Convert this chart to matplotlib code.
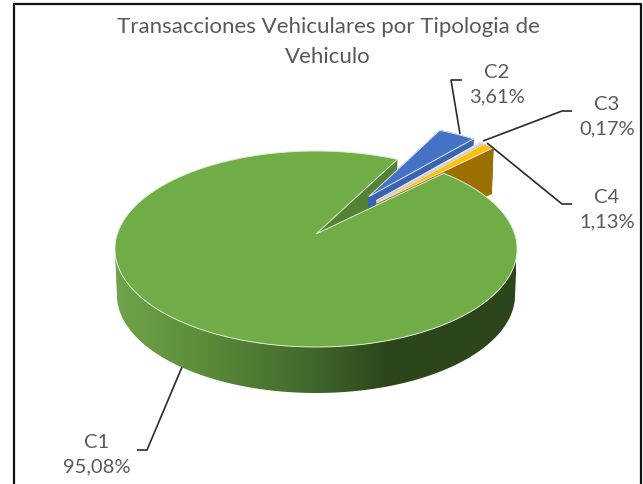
import numpy as np
import matplotlib
matplotlib.use("Agg")
import matplotlib.pyplot as plt
from matplotlib.colors import LinearSegmentedColormap
from matplotlib.patches import Polygon

plt.rcParams['font.family'] = ['Lato', 'DejaVu Sans']

title = "Transacciones Vehiculares por Tipologia de\nVehiculo"
categories = ["C1", "C2", "C3", "C4"]
values = [95.08, 3.61, 0.17, 1.13]
value_labels = ["95,08%", "3,61%", "0,17%", "1,13%"]
top_colors = ["#70ad47", "#4472c4", "#a5a5a5", "#ffc000"]
side_colors = ["#548235", "#3a64b0", "#c9c9c9", "#9c7000"]

# projection of the pie disc, in picture pixels
cx, cy = 316, 235
a, b, k = 95.7, 198.7, 0.153
depth = 46
start_angle = 44.6
explode = [0, 0.5, 0.49, 0.47]


def project(x, y):
    den = 1 + k * y
    return cx + b * x / den, cy - a * y / den


def lower(px, py):
    return cx + (px - cx) * 0.99, py + depth


def slice_outline(t0, t1, off):
    # t0 > t1, clockwise, degrees
    mid = np.radians((t0 + t1) / 2)
    ox, oy = off * np.cos(mid), off * np.sin(mid)
    t = np.radians(np.linspace(t0, t1, max(int(abs(t0 - t1)) * 2, 8)))
    xs = np.r_[ox, ox + np.cos(t)]
    ys = np.r_[oy, oy + np.sin(t)]
    return project(xs, ys)


def draw_walls(px, py, color, z):
    lx, ly = lower(px, py)
    n = len(px)
    for i in range(n):
        j = (i + 1) % n
        ax.fill([px[i], px[j], lx[j], lx[i]], [py[i], py[j], ly[j], ly[i]],
                color=color, lw=0.4, zorder=z)


fig = plt.figure(figsize=(6.43, 4.85), dpi=100)
ax = fig.add_axes([0, 0, 1, 1])
ax.set_xlim(0, 643)
ax.set_ylim(485, 0)
ax.axis('off')

# slice angles from the values
ends = start_angle - np.cumsum(values) / sum(values) * 360
starts = np.r_[start_angle, ends[:-1]]

# C1 cut face behind the small slices
gx, gy = slice_outline(starts[0], ends[0], 0)
lx, ly = lower(gx, gy)
ax.fill([gx[0], gx[-1], lx[-1], lx[0]], [gy[0], gy[-1], ly[-1], ly[0]],
        color=side_colors[0], lw=0, zorder=1)

# C1 front wall with its gradient
t = np.radians(np.linspace(-9, -171, 200))
wx, wy = project(np.cos(t), np.sin(t))
bx, by = lower(wx, wy)
wall = Polygon(np.c_[np.r_[wx, bx[::-1]], np.r_[wy, by[::-1]]], closed=True,
               transform=ax.transData, fc='none', ec='none')
ax.add_patch(wall)
cmap = LinearSegmentedColormap.from_list(
    "wall", [(0, "#6fa449"), (0.2, "#5e8f3c"), (0.5, "#40662a"),
             (0.68, "#2c451a"), (1, "#2c451a")])
im = ax.imshow(np.linspace(0, 1, 256)[None, :], cmap=cmap, aspect='auto',
               extent=(115, 516, 400, 240), zorder=2)
im.set_clip_path(wall)
ax.set_xlim(0, 643)
ax.set_ylim(485, 0)

# small slices, far one first
for i in [1, 2, 3]:
    px, py = slice_outline(starts[i], ends[i], explode[i])
    draw_walls(px, py, side_colors[i], 3 + i)
    ax.fill(px, py, fc=top_colors[i], ec="#e8e8e8", lw=0.7, zorder=3.5 + i)

# C1 top goes over the C4 wall
ax.fill(gx, gy, fc=top_colors[0], ec="#dfe9d6", lw=0.7, zorder=8)

# leader lines
leaders = [
    ([182, 147, 137], [368, 451, 451]),
    ([460, 451, 462], [135, 81, 81]),
    ([483, 562, 572], [142, 112, 112]),
    ([487, 562, 572], [144, 205, 205]),
]
label_pos = [(97, 455), (497, 85), (607, 117), (607, 210)]
for (lxs, lys), (tx, ty), cat, lab in zip(leaders, label_pos, categories, value_labels):
    ax.plot(lxs, lys, color="#2b2b2b", lw=1.2, zorder=9, solid_capstyle='butt')
    ax.text(tx, ty, cat + "\n" + lab, color="#595959", fontsize=14.5, ha='center',
            va='center', linespacing=1.5)

ax.text(328, 42, title, color="#595959", fontsize=16, ha='center', va='center',
        linespacing=1.6)

# picture frame
ax.plot([14, 14, 641, 641], [485, 4.5, 4.5, 485], color="#111111", lw=1.6, zorder=10)

fig.savefig("out.png", dpi=100)
